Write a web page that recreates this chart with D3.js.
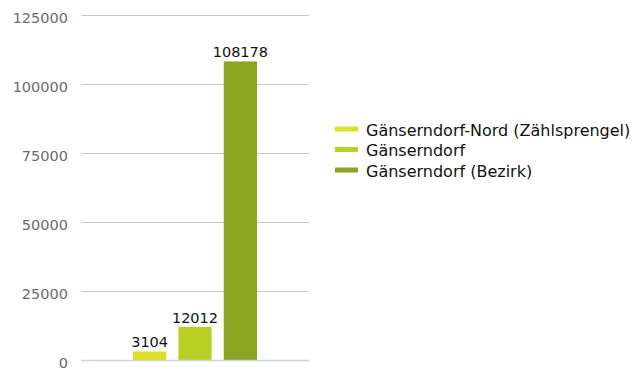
<!DOCTYPE html>
<html>
<head>
<meta charset="utf-8">
<script src="https://cdn.jsdelivr.net/npm/d3@7"></script>
<style>
  html, body { margin: 0; padding: 0; background: #fff; }
  text { font-family: "DejaVu Sans", sans-serif; }
</style>
</head>
<body>
<svg id="chart" width="641" height="370"></svg>
<script>
// Population figures
const categories = ["Gänserndorf-Nord (Zählsprengel)", "Gänserndorf", "Gänserndorf (Bezirk)"];
const values = [3104, 12012, 108178];
const colors = ["#dde024", "#b8cf23", "#8ba523"];
const yTicks = [0, 25000, 50000, 75000, 100000, 125000];

const svg = d3.select("#chart");
const plot = { left: 81, right: 309, top: 15, bottom: 360 };

const y = d3.scaleLinear().domain([0, 125000]).range([plot.bottom, plot.top]);
const x = d3.scaleBand().domain(categories).range([133, 257]).paddingInner(0.267).paddingOuter(0);

// Gridlines
svg.append("g").selectAll("line").data(yTicks.filter(d => d > 0)).join("line")
  .attr("x1", plot.left).attr("x2", plot.right)
  .attr("y1", d => Math.round(y(d)) + 0.5).attr("y2", d => Math.round(y(d)) + 0.5)
  .attr("stroke", "#c8c8c8").attr("stroke-width", 1.2);

// Y axis labels, sitting slightly below their gridlines
const yAxis = d3.axisLeft(y).tickValues(yTicks).tickSize(0).tickPadding(13).tickFormat(d3.format("d"));
const ga = svg.append("g").attr("transform", `translate(${plot.left},2.5)`).call(yAxis);
ga.select(".domain").remove();
ga.selectAll("text").attr("fill", "#6b6b6b").style("font-size", "14.5px").style("font-family", "DejaVu Sans");

// Bars
svg.append("g").selectAll("rect").data(values).join("rect")
  .attr("x", (d, i) => x(categories[i]))
  .attr("width", x.bandwidth())
  .attr("y", d => y(d))
  .attr("height", d => y(0) - y(d))
  .attr("fill", (d, i) => colors[i]);

// Baseline
svg.append("line")
  .attr("x1", plot.left).attr("x2", plot.right)
  .attr("y1", y(0) + 0.5).attr("y2", y(0) + 0.5)
  .attr("stroke", "#c9d5e1").attr("stroke-width", 1.5);

// Value labels
svg.append("g").selectAll("text").data(values).join("text")
  .attr("x", (d, i) => x(categories[i]) + x.bandwidth() / 2)
  .attr("y", d => y(d) - 4)
  .attr("text-anchor", "middle")
  .attr("fill", "#111")
  .style("font-size", "14.5px")
  .text(d => d);

// Legend
const lg = svg.append("g").attr("transform", "translate(335,129)");
const rows = lg.selectAll("g").data(categories).join("g")
  .attr("transform", (d, i) => `translate(0,${i * 20.5})`);
rows.append("rect").attr("x", 0).attr("y", -2.5).attr("width", 23).attr("height", 5)
  .attr("fill", (d, i) => colors[i]);
rows.append("text").attr("x", 31).attr("y", 1).attr("dy", "0.35em")
  .attr("fill", "#111").style("font-size", "16px").text(d => d);
</script>
</body>
</html>
